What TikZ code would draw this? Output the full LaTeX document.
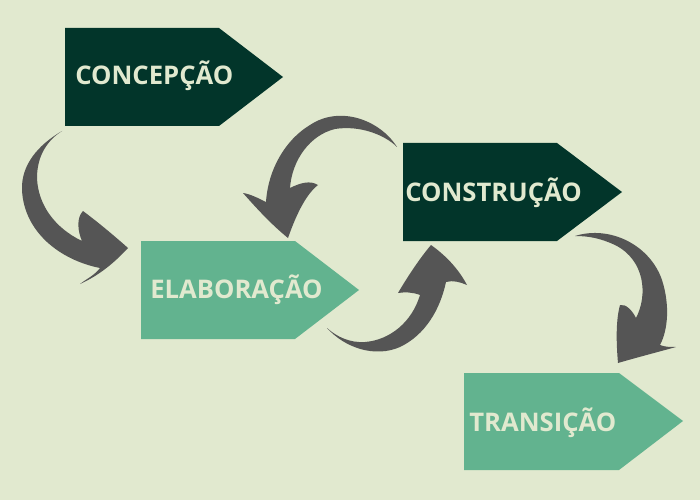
\documentclass[tikz,border=0pt]{standalone}
\usepackage{fontspec}
\newfontfamily\rotfont{Open Sans}
\usetikzlibrary{positioning}
\definecolor{fundo}{HTML}{E1E9CF}
\definecolor{escuro}{HTML}{02352A}
\definecolor{claro}{HTML}{62B38F}
\definecolor{cinza}{HTML}{555555}
\tikzset{
  rotulo/.style={text=fundo, font=\rotfont\bfseries\fontsize{14.6}{17}\selectfont, inner sep=0pt, anchor=base west},
  seta/.style={fill=cinza}
}

\begin{document}
\begin{tikzpicture}[x=0.02cm, y=-0.02cm]
% background
\fill[fundo] (0,0) rectangle (700,500);

% Concepcao
\fill[escuro] (65,28) -- (219,28) -- (283,77) -- (219,126) -- (65,126) -- cycle;
\node[rotulo] (concepcao) at (75,85) {CONCEPÇÃO};

% Elaboracao
\fill[claro] (141,241) -- (295,241) -- (359,290) -- (295,339) -- (141,339) -- cycle;
\node[rotulo] (elaboracao) at (150,298) {ELABORAÇÃO};

% Construcao
\fill[escuro] (403,143) -- (557,143) -- (622,192) -- (557,241) -- (403,241) -- cycle;
\node[rotulo] (construcao) at (405,201) {CONSTRUÇÃO};

% Transicao
\fill[claro] (464,373) -- (619,373) -- (683,421) -- (619,470) -- (464,470) -- cycle;
\node[rotulo] (transicao) at (469,431) {TRANSIÇÃO};

% arrow concepcao -> elaboracao
\fill[seta] (62,131) .. controls (38,145) and (21,165) .. (22,190)
  .. controls (24,232) and (60,260) .. (100,268)
  .. controls (95,275) and (85,280) .. (80,284)
  .. controls (100,275) and (115,262) .. (128,248)
  .. controls (110,232) and (95,220) .. (83,211)
  .. controls (76,218) and (78,232) .. (82,241)
  .. controls (55,228) and (38,205) .. (37,178)
  .. controls (37,155) and (48,140) .. (62,131) -- cycle;

% arrow construcao -> elaboracao
\fill[seta] (397,147) .. controls (380,120) and (340,105) .. (310,125)
  .. controls (285,140) and (268,170) .. (266,202)
  .. controls (258,198) and (250,194) .. (243,193)
  .. controls (258,210) and (272,225) .. (288,238)
  .. controls (295,218) and (305,195) .. (318,185)
  .. controls (310,180) and (300,183) .. (290,188)
  .. controls (292,160) and (310,135) .. (335,129)
  .. controls (360,125) and (385,135) .. (397,147) -- cycle;

% arrow elaboracao -> construcao
\fill[seta] (327,328) .. controls (345,348) and (375,358) .. (400,347)
  .. controls (425,335) and (440,310) .. (446,282)
  .. controls (453,280) and (460,282) .. (467,285)
  .. controls (458,268) and (445,255) .. (431,245)
  .. controls (420,258) and (408,276) .. (398,293)
  .. controls (405,292) and (412,292) .. (420,295)
  .. controls (412,322) and (390,340) .. (365,342)
  .. controls (350,343) and (337,337) .. (327,328) -- cycle;

% arrow construcao -> transicao
\fill[seta] (575,236) .. controls (610,225) and (650,245) .. (662,280)
  .. controls (670,305) and (668,330) .. (660,345)
  .. controls (665,347) and (670,347) .. (676,347)
  .. controls (658,352) and (635,358) .. (618,363)
  .. controls (616,340) and (616,320) .. (620,305)
  .. controls (626,304) and (632,310) .. (636,318)
  .. controls (648,295) and (645,260) .. (615,245)
  .. controls (600,238) and (588,236) .. (575,236) -- cycle;
\end{tikzpicture}
\end{document}
